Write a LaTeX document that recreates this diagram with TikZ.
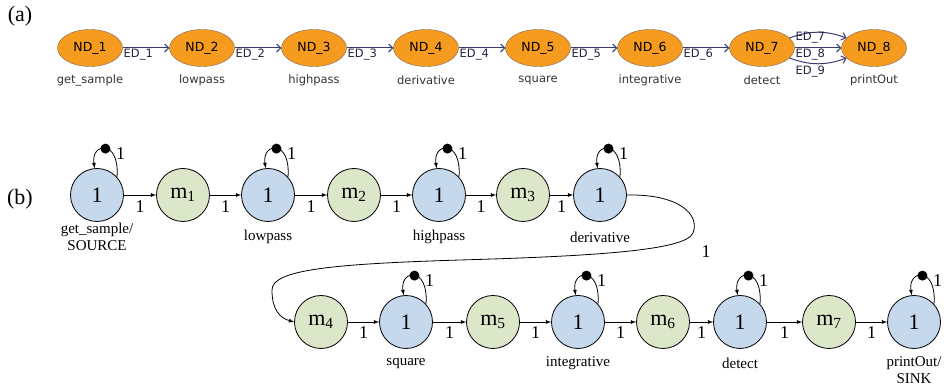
\documentclass[tikz,border=0pt]{standalone}
\usepackage{fontspec}
\setmainfont{Liberation Serif}
\newfontfamily\dejavu{DejaVu Sans}
\usetikzlibrary{shapes.geometric,positioning,arrows.meta}
\definecolor{ndorange}{HTML}{F59B20}
\definecolor{ndborder}{HTML}{7A6A55}
\definecolor{edblue}{HTML}{3D3A72}
\definecolor{actblue}{HTML}{C6D8EC}
\definecolor{chgreen}{HTML}{DCE6C9}
\begin{document}
\begin{tikzpicture}[x=1pt,y=1pt,line join=round,
  ndnode/.style={ellipse,draw=ndborder,fill=ndorange,minimum width=65pt,minimum height=37pt,inner sep=0pt,font=\dejavu\fontsize{12.5}{14}\selectfont},
  ndname/.style={font=\dejavu\fontsize{11.5}{13}\selectfont,text=black!80},
  ndedge/.style={draw=edblue,line width=1pt,-{Straight Barb[length=4pt,width=8pt]}},
  edlabel/.style={font=\dejavu\fontsize{11.5}{13}\selectfont,text=edblue!60!black,inner sep=0.5pt,anchor=north west},
  actor/.style={circle,draw,line width=0.8pt,fill=actblue,minimum size=53pt,inner sep=0pt,font=\fontsize{22}{24}\selectfont},
  chan/.style={actor,fill=chgreen},
  rate/.style={font=\fontsize{18}{20}\selectfont,inner sep=1pt},
  aname/.style={font=\fontsize{15}{17}\selectfont,align=center,inner sep=0pt},
  flow/.style={line width=0.8pt,-latex}]
\useasboundingbox (0,0) rectangle (945,390);

% (a) task graph
\node[font=\fontsize{22}{24}\selectfont] (pa) at (20,374) {(a)};
\node[ndnode] (a1) at (90,342) {ND\_1};
\node[ndnode] (a2) at (202,342) {ND\_2};
\node[ndnode] (a3) at (314,342) {ND\_3};
\node[ndnode] (a4) at (426,342) {ND\_4};
\node[ndnode] (a5) at (538,342) {ND\_5};
\node[ndnode] (a6) at (650,342) {ND\_6};
\node[ndnode] (a7) at (762,342) {ND\_7};
\node[ndnode] (a8) at (874,342) {ND\_8};
\node[ndname] (l1) at (90,310) {get\_sample};
\node[ndname] (l2) at (202,310) {lowpass};
\node[ndname] (l3) at (314,310) {highpass};
\node[ndname] (l4) at (426,310) {derivative};
\node[ndname] (l5) at (538,310) {square};
\node[ndname] (l6) at (650,310) {integrative};
\node[ndname] (l7) at (762,310) {detect};
\node[ndname] (l8) at (874,310) {printOut};
\draw[ndedge] (a1) -- node[edlabel,pos=0] (e1) {ED\_1} (a2);
\draw[ndedge] (a2) -- node[edlabel,pos=0] (e2) {ED\_2} (a3);
\draw[ndedge] (a3) -- node[edlabel,pos=0] (e3) {ED\_3} (a4);
\draw[ndedge] (a4) -- node[edlabel,pos=0] (e4) {ED\_4} (a5);
\draw[ndedge] (a5) -- node[edlabel,pos=0] (e5) {ED\_5} (a6);
\draw[ndedge] (a6) -- node[edlabel,pos=0] (e6) {ED\_6} (a7);
\draw[ndedge] (a7.20) to[bend left=20] (a8.160);
\draw[ndedge] (a7) -- node[edlabel,pos=0] (e8) {ED\_8} (a8);
\draw[ndedge] (a7.-20) to[bend right=20] (a8.-160);
\node[edlabel,anchor=west] (e7) at (795,352) {ED\_7};
\node[edlabel,anchor=west] (e9) at (795,318) {ED\_9};

% (b) SDF graph
\node[font=\fontsize{22}{24}\selectfont] (pb) at (20,191) {(b)};
\node[actor] (s1) at (97,195) {1};
\node[chan] (m1) at (183,195) {m\textsubscript{1}};
\node[actor] (s2) at (268,195) {1};
\node[chan] (m2) at (354,195) {m\textsubscript{2}};
\node[actor] (s3) at (439,195) {1};
\node[chan] (m3) at (523,195) {m\textsubscript{3}};
\node[actor] (s4) at (600,195) {1};
\node[chan] (m4) at (321,68) {m\textsubscript{4}};
\node[actor] (s5) at (406,68) {1};
\node[chan] (m5) at (493,68) {m\textsubscript{5}};
\node[actor] (s6) at (578,68) {1};
\node[chan] (m6) at (663,68) {m\textsubscript{6}};
\node[actor] (s7) at (740,68) {1};
\node[chan] (m7) at (829,68) {m\textsubscript{7}};
\node[actor] (s8) at (914,68) {1};
\node[aname] (n1) at (97,153) {get\_sample/\\SOURCE};
\node[aname] (n2) at (268,153) {lowpass};
\node[aname] (n3) at (439,153) {highpass};
\node[aname] (n4) at (600,153) {derivative};
\node[aname] (n5) at (406,27) {square};
\node[aname] (n6) at (578,27) {integrative};
\node[aname] (n7) at (740,27) {detect};
\node[aname] (n8) at (914,20) {printOut/\\SINK};

\draw[flow] (s1) -- node[rate,below=4pt] (r1) {1} (m1);
\draw[flow] (m1) -- node[rate,below=4pt] (r2) {1} (s2);
\draw[flow] (s2) -- node[rate,below=4pt] (r3) {1} (m2);
\draw[flow] (m2) -- node[rate,below=4pt] (r4) {1} (s3);
\draw[flow] (s3) -- node[rate,below=4pt] (r5) {1} (m3);
\draw[flow] (m3) -- node[rate,below=4pt] (r6) {1} (s4);
\draw[flow] (s4.east) .. controls (680,196) and (700,175) .. (693,157)
  .. controls (686,140) and (600,134) .. (460,130)
  .. controls (330,126) and (272,120) .. (272,100)
  .. controls (272,80) and (280,72) .. (m4.west);
\node[rate] (r7) at (706,138) {1};
\draw[flow] (m4) -- node[rate,below=3pt] (r8) {1} (s5);
\draw[flow] (s5) -- node[rate,below=3pt] (r9) {1} (m5);
\draw[flow] (m5) -- node[rate,below=3pt] (r10) {1} (s6);
\draw[flow] (s6) -- node[rate,below=3pt] (r11) {1} (m6);
\draw[flow] (m6) -- node[rate,below=3pt] (r12) {1} (s7);
\draw[flow] (s7) -- node[rate,below=3pt] (r13) {1} (m7);
\draw[flow] (m7) -- node[rate,below=3pt] (r14) {1} (s8);

% self loops with one token
\draw[flow] (s1.42) .. controls +(3,38) and +(-4,26) .. (s1.95) coordinate[pos=0.5] (t1) node[rate,pos=0.3,right=2pt] (q1) {1};
\draw[flow] (s2.42) .. controls +(3,38) and +(-4,26) .. (s2.95) coordinate[pos=0.5] (t2) node[rate,pos=0.3,right=2pt] (q2) {1};
\draw[flow] (s3.42) .. controls +(3,38) and +(-4,26) .. (s3.95) coordinate[pos=0.5] (t3) node[rate,pos=0.3,right=2pt] (q3) {1};
\draw[flow] (s4.42) .. controls +(3,38) and +(-4,26) .. (s4.95) coordinate[pos=0.5] (t4) node[rate,pos=0.3,right=2pt] (q4) {1};
\draw[flow] (s5.42) .. controls +(3,38) and +(-4,26) .. (s5.95) coordinate[pos=0.5] (t5) node[rate,pos=0.3,right=2pt] (q5) {1};
\draw[flow] (s6.42) .. controls +(3,38) and +(-4,26) .. (s6.95) coordinate[pos=0.5] (t6) node[rate,pos=0.3,right=2pt] (q6) {1};
\draw[flow] (s7.42) .. controls +(3,38) and +(-4,26) .. (s7.95) coordinate[pos=0.5] (t7) node[rate,pos=0.3,right=2pt] (q7) {1};
\draw[flow] (s8.42) .. controls +(3,38) and +(-4,26) .. (s8.95) coordinate[pos=0.5] (t8) node[rate,pos=0.3,right=2pt] (q8) {1};
\fill (t1) circle (5pt) (t2) circle (5pt) (t3) circle (5pt) (t4) circle (5pt)
  (t5) circle (5pt) (t6) circle (5pt) (t7) circle (5pt) (t8) circle (5pt);
\end{tikzpicture}
\end{document}
